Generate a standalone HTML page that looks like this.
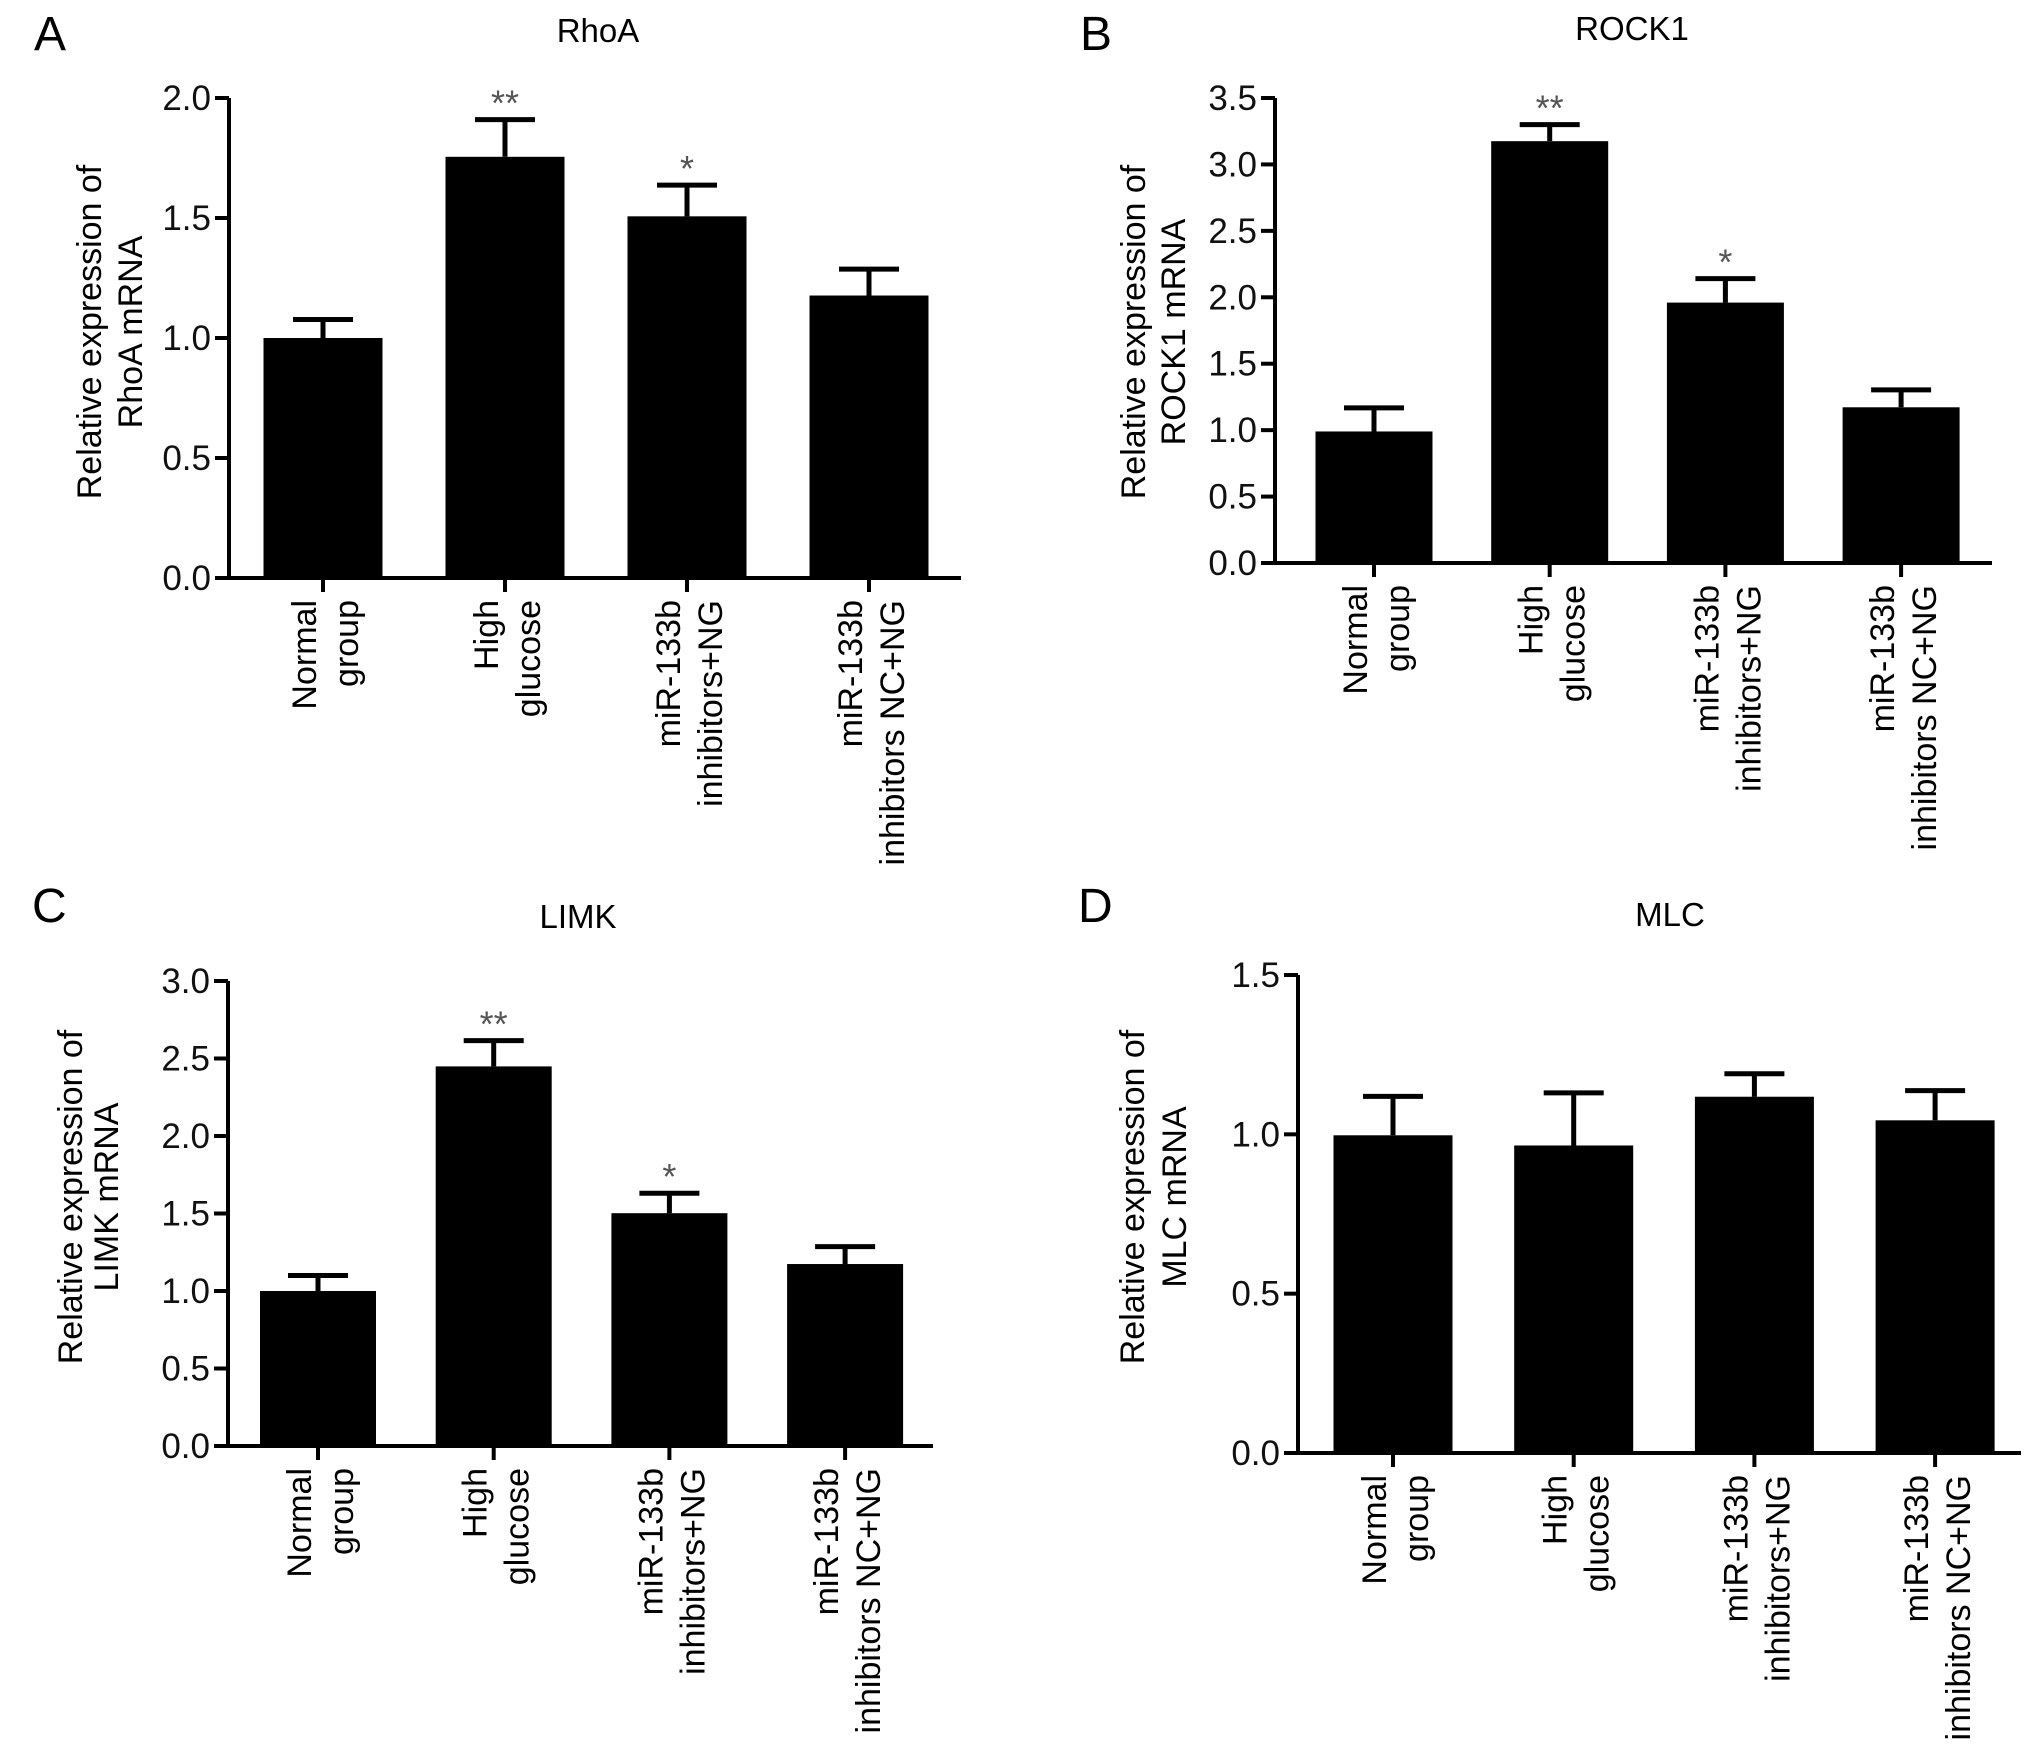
<!DOCTYPE html>
<html><head><meta charset="utf-8"><style>
html,body{margin:0;padding:0;background:#fff;}
svg{display:block;font-family:"Liberation Sans",Arial,sans-serif;}
</style></head><body>
<svg id="fig" width="2032" height="1752" viewBox="0 0 2032 1752" xmlns="http://www.w3.org/2000/svg"></svg>
<script>
const categoriesLine1 = ["Normal","High","miR-133b","miR-133b"];
const categoriesLine2 = ["group","glucose","inhibitors+NG","inhibitors NC+NG"];

const rhoaMeans = [1.0, 1.755, 1.507, 1.177];
const rhoaErrors = [0.077, 0.155, 0.13, 0.11];
const rhoaStars = ["", "**", "*", ""];
const rhoaTicks = ["0.0","0.5","1.0","1.5","2.0"];

const rock1Means = [0.99, 3.175, 1.96, 1.172];
const rock1Errors = [0.178, 0.125, 0.18, 0.131];
const rock1Stars = ["", "**", "*", ""];
const rock1Ticks = ["0.0","0.5","1.0","1.5","2.0","2.5","3.0","3.5"];

const limkMeans = [1.0, 2.449, 1.502, 1.174];
const limkErrors = [0.1, 0.166, 0.129, 0.112];
const limkStars = ["", "**", "*", ""];
const limkTicks = ["0.0","0.5","1.0","1.5","2.0","2.5","3.0"];

const mlcMeans = [0.997, 0.965, 1.118, 1.044];
const mlcErrors = [0.122, 0.165, 0.072, 0.093];
const mlcStars = ["", "", "", ""];
const mlcTicks = ["0.0","0.5","1.0","1.5"];

const NS = "http://www.w3.org/2000/svg";
const svg = document.getElementById('fig');
function mk(tag, attrs, parent, text){
  const e = document.createElementNS(NS, tag);
  for (const k in attrs) e.setAttribute(k, attrs[k]);
  if (text !== undefined) e.textContent = text;
  parent.appendChild(e);
  return e;
}

function panel(cfg){
  const g = mk('g', {}, svg);
  
  
  const ymax = parseFloat(cfg.ticks[cfg.ticks.length-1]);
  const y = v => cfg.y0 - (v / ymax) * (cfg.y0 - cfg.yTop);
  const x = i => cfg.x1 + i * cfg.step;

  const letter = mk('text', {x:cfg.lx, y:cfg.ly, 'font-size':48, fill:'#000'}, g, cfg.letter);
  
  
  const title = mk('text', {x:cfg.tx, y:cfg.ty, 'font-size':33, 'text-anchor':'middle', fill:'#000'}, g, cfg.title);
  
  

  cfg.means.forEach((m, i) => {
    const cx = x(i);
    const bar = mk('rect', {x:cx - cfg.bw/2, y:y(m), width:cfg.bw, height:cfg.y0 - y(m), fill:'#000'}, g);
    
    
    const top = y(m + cfg.errs[i]);
    const eb = mk('path', {d:`M${cx},${y(m)} V${top} M${cx-30},${top} H${cx+30}`, stroke:'#000', 'stroke-width':5, fill:'none'}, g);
    
    
    if (cfg.stars[i]) {
      const st = mk('text', {x:cx, y:top - 4, 'font-size':36, 'text-anchor':'middle', fill:'#555'}, g, cfg.stars[i]);
      
      
    }
  });

  const ax = mk('path', {d:`M${cfg.ax},${cfg.yTop} V${cfg.y0} H${cfg.xEnd}`, stroke:'#000', 'stroke-width':4, fill:'none'}, g);
  
  
  cfg.ticks.forEach(t => {
    const ty = y(parseFloat(t));
    const tk = mk('line', {x1:cfg.ax - 14, x2:cfg.ax, y1:ty, y2:ty, stroke:'#000', 'stroke-width':4}, g);
    
    
    const tl = mk('text', {x:cfg.ax - 18, y:ty + 12, 'font-size':35, 'text-anchor':'end', fill:'#111'}, g, t);
    
    
  });
  categoriesLine1.forEach((c, i) => {
    const cx = x(i);
    const tk = mk('line', {x1:cx, x2:cx, y1:cfg.y0, y2:cfg.y0 + 14, stroke:'#000', 'stroke-width':4}, g);
    
    
    const lt = mk('text', {'font-size':34, 'text-anchor':'end', fill:'#000', transform:`translate(${cx},${cfg.y0 + 22}) rotate(-90)`}, g);
    
    
    mk('tspan', {x:0, y:-7}, lt, c);
    mk('tspan', {x:0, y:35}, lt, categoriesLine2[i]);
  });
  const yt = mk('text', {'font-size':34, 'text-anchor':'middle', fill:'#000', transform:`translate(${cfg.ax},${cfg.ytc}) rotate(-90)`}, g);
  
  
  mk('tspan', {x:0, y:cfg.yl1}, yt, 'Relative expression of');
  mk('tspan', {x:0, y:cfg.yl2}, yt, cfg.ytitle2);
}

panel({id:'rhoa', letter:'A', lx:34, ly:50, title:'RhoA', tx:598, ty:42, means:rhoaMeans, errs:rhoaErrors, stars:rhoaStars, ticks:rhoaTicks,
  ax:229, y0:578, yTop:98, xEnd:961, x1:323, step:182, bw:119, ytc:332, yl1:-128, yl2:-87, ytitle2:'RhoA mRNA'});
panel({id:'rock1', letter:'B', lx:1080, ly:50, title:'ROCK1', tx:1632, ty:40, means:rock1Means, errs:rock1Errors, stars:rock1Stars, ticks:rock1Ticks,
  ax:1275, y0:563, yTop:98, xEnd:1992, x1:1374, step:175.7, bw:117, ytc:332, yl1:-130, yl2:-90, ytitle2:'ROCK1 mRNA'});
panel({id:'limk', letter:'C', lx:32, ly:922, title:'LIMK', tx:578, ty:928, means:limkMeans, errs:limkErrors, stars:limkStars, ticks:limkTicks,
  ax:228, y0:1446, yTop:981, xEnd:933, x1:318, step:175.7, bw:116, ytc:1197, yl1:-146, yl2:-110, ytitle2:'LIMK mRNA'});
panel({id:'mlc', letter:'D', lx:1078, ly:922, title:'MLC', tx:1670, ty:926, means:mlcMeans, errs:mlcErrors, stars:mlcStars, ticks:mlcTicks,
  ax:1298, y0:1453, yTop:975, xEnd:2021, x1:1393, step:180.7, bw:119, ytc:1197, yl1:-154, yl2:-112, ytitle2:'MLC mRNA'});
</script>
</body></html>
